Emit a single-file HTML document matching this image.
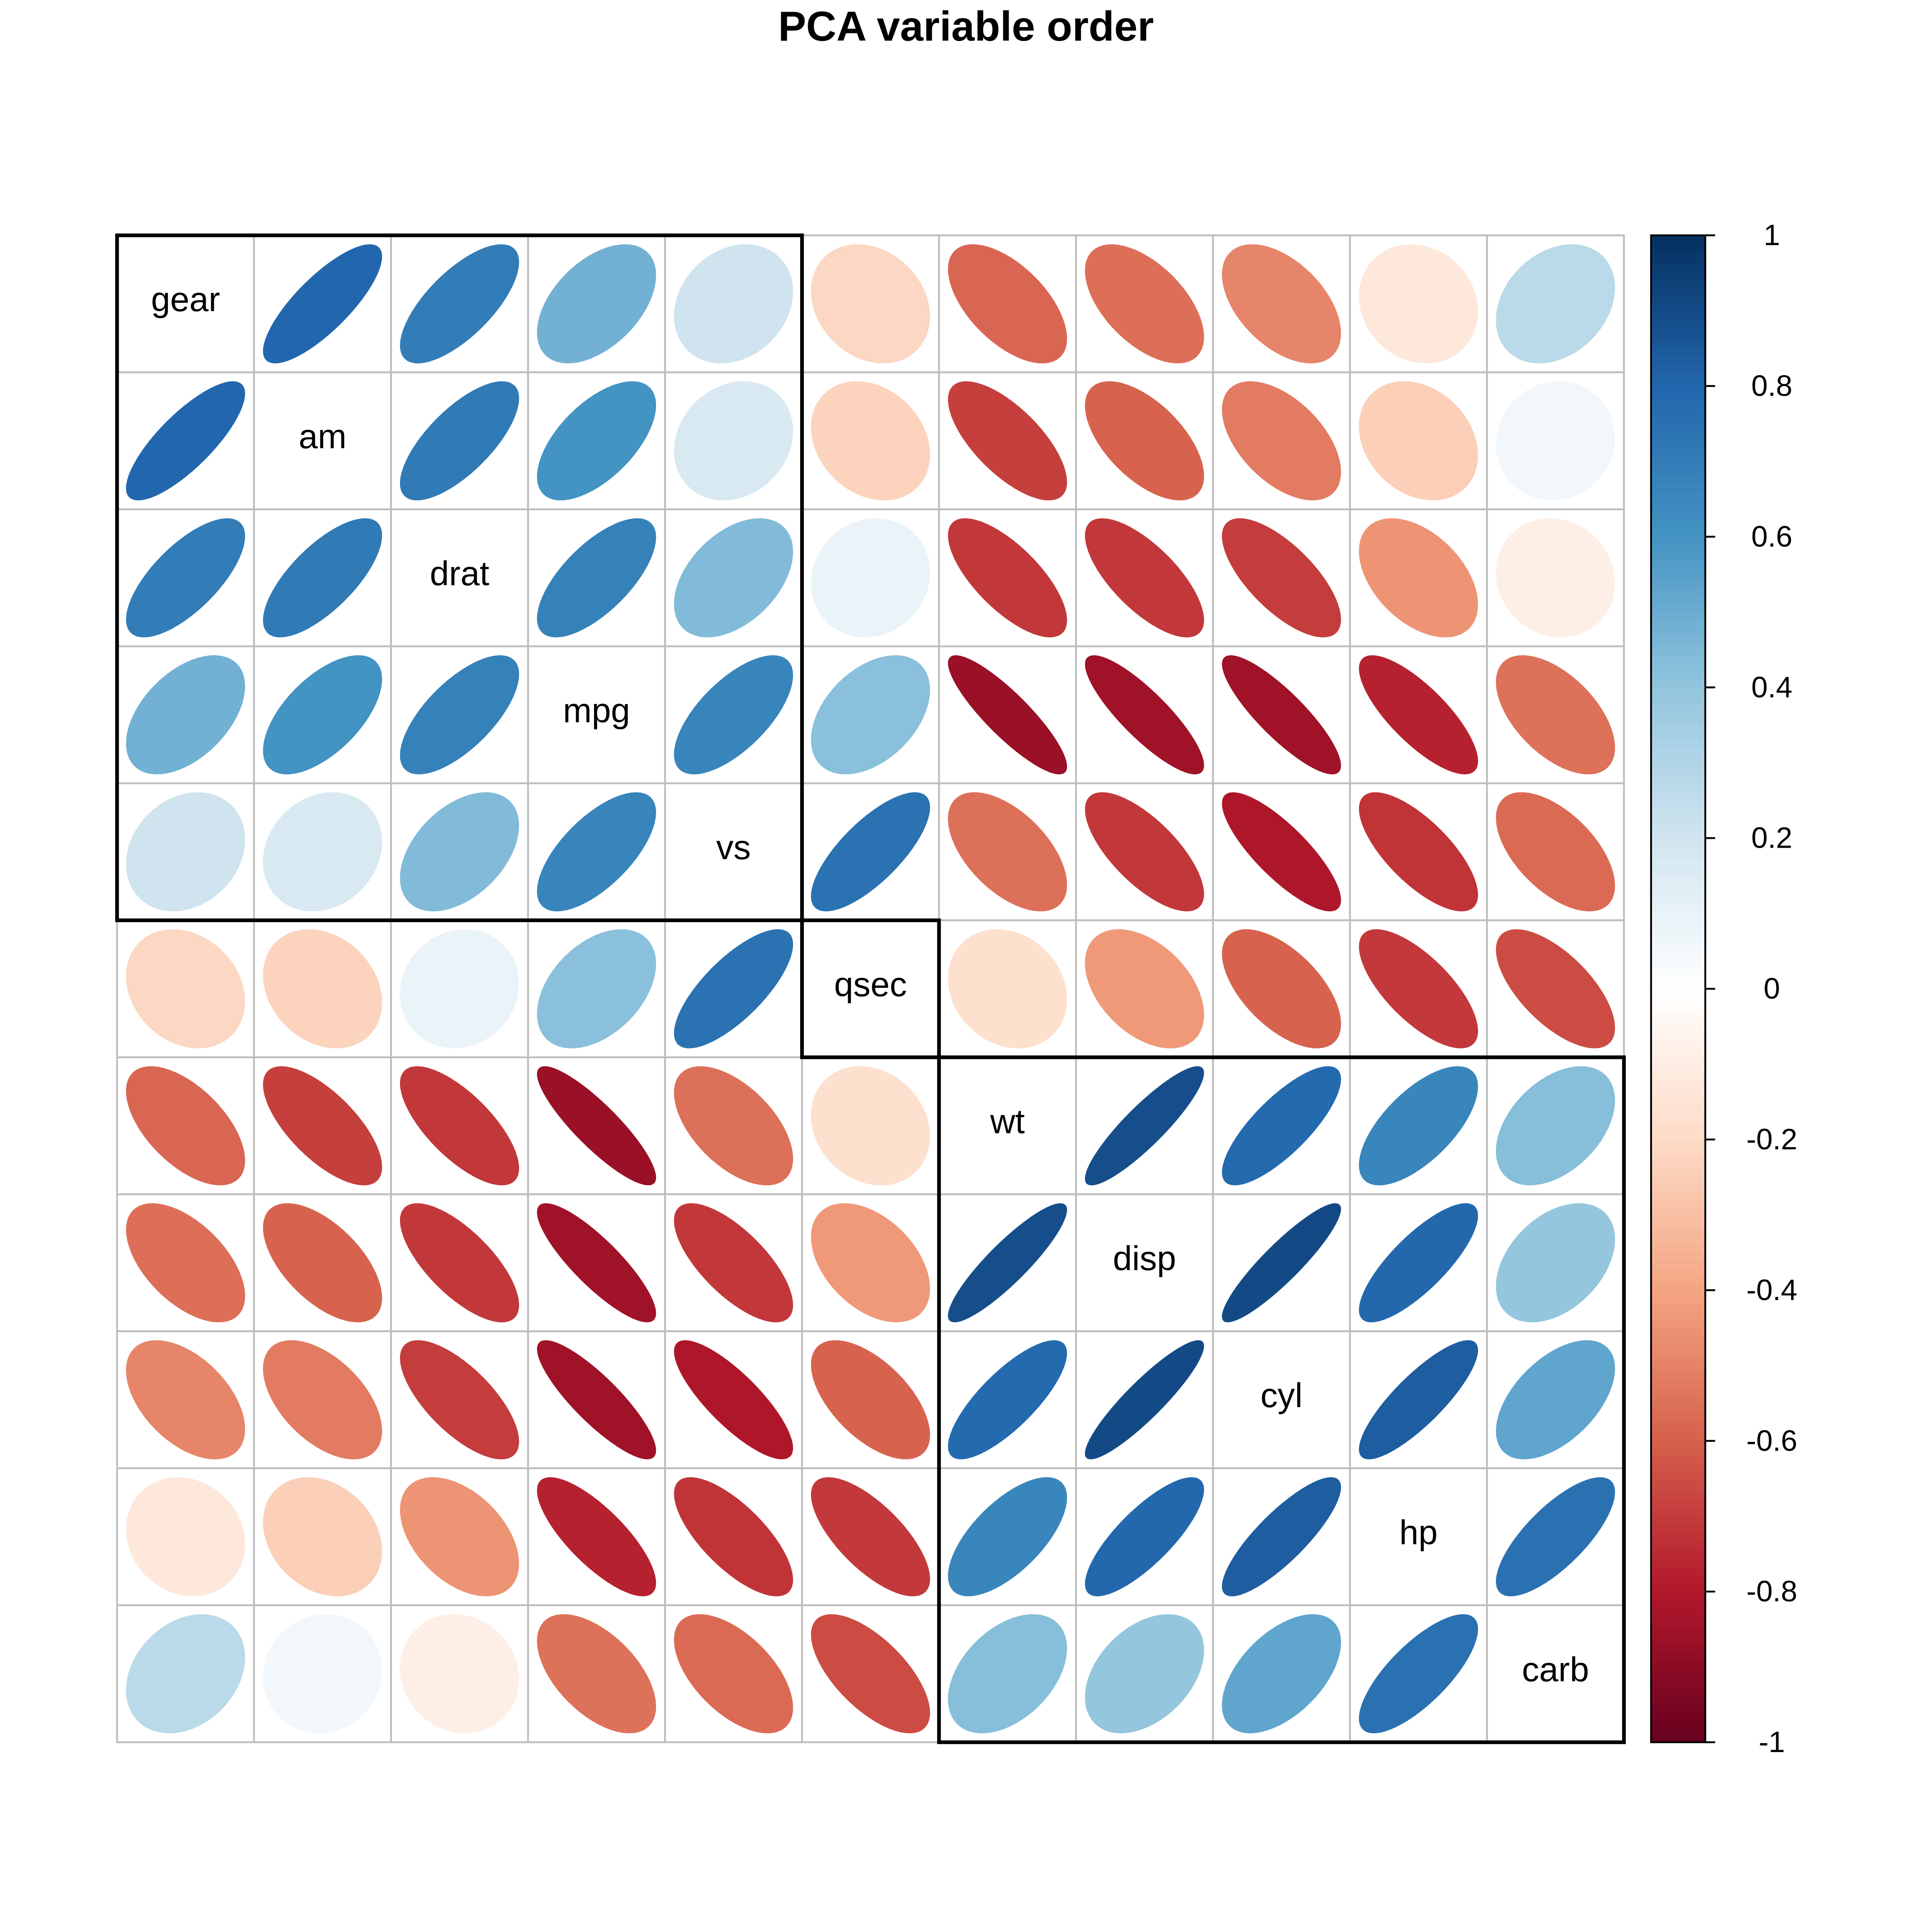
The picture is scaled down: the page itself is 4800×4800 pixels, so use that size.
<!DOCTYPE html>
<html><head><meta charset="utf-8"><style>html,body{margin:0;padding:0;background:#fff}svg{display:block}</style></head>
<body>
<svg id="s" xmlns="http://www.w3.org/2000/svg" width="4800" height="4800" viewBox="0 0 1568 1568" font-family="Liberation Sans, Arial, sans-serif">
<rect width="1568" height="1568" fill="#fff"/>
<text x="784" y="33" text-anchor="middle" font-size="34" font-weight="bold">PCA variable order</text>
<g id="cells"></g>
<g id="bar"></g>
</svg>
<script>
var names=["gear","am","drat","mpg","vs","qsec","wt","disp","cyl","hp","carb"];
var C={};
function s(a,b,v){C[a+","+b]=v;C[b+","+a]=v;}
s("mpg","cyl",-0.852);s("mpg","disp",-0.848);s("mpg","hp",-0.776);s("mpg","drat",0.681);s("mpg","wt",-0.868);s("mpg","qsec",0.419);s("mpg","vs",0.664);s("mpg","am",0.600);s("mpg","gear",0.480);s("mpg","carb",-0.551);
s("cyl","disp",0.902);s("cyl","hp",0.832);s("cyl","drat",-0.700);s("cyl","wt",0.782);s("cyl","qsec",-0.591);s("cyl","vs",-0.811);s("cyl","am",-0.523);s("cyl","gear",-0.493);s("cyl","carb",0.527);
s("disp","hp",0.791);s("disp","drat",-0.710);s("disp","wt",0.888);s("disp","qsec",-0.434);s("disp","vs",-0.710);s("disp","am",-0.591);s("disp","gear",-0.556);s("disp","carb",0.395);
s("hp","drat",-0.449);s("hp","wt",0.659);s("hp","qsec",-0.708);s("hp","vs",-0.723);s("hp","am",-0.243);s("hp","gear",-0.126);s("hp","carb",0.750);
s("drat","wt",-0.712);s("drat","qsec",0.091);s("drat","vs",0.440);s("drat","am",0.713);s("drat","gear",0.700);s("drat","carb",-0.091);
s("wt","qsec",-0.175);s("wt","vs",-0.555);s("wt","am",-0.692);s("wt","gear",-0.583);s("wt","carb",0.428);
s("qsec","vs",0.745);s("qsec","am",-0.230);s("qsec","gear",-0.213);s("qsec","carb",-0.656);
s("vs","am",0.168);s("vs","gear",0.206);s("vs","carb",-0.570);
s("am","gear",0.794);s("am","carb",0.058);s("gear","carb",0.274);
var pal=["#67001F","#B2182B","#D6604D","#F4A582","#FDDBC7","#FFFFFF","#D1E5F0","#92C5DE","#4393C3","#2166AC","#053061"];
function hx(h){return [parseInt(h.substr(1,2),16),parseInt(h.substr(3,2),16),parseInt(h.substr(5,2),16)];}
function col(r){var t=(r+1)/2*10;var i=Math.min(9,Math.floor(t));var f=t-i;var a=hx(pal[i]),b=hx(pal[i+1]);
return "rgb("+a.map(function(v,k){return Math.round(v+(b[k]-v)*f)}).join(",")+")";}
var L=95,T=191,W=(1318-95)/11,out="";
for(var i=0;i<11;i++)for(var j=0;j<11;j++){
 var x=L+j*W,y=T+i*W;
 out+='<rect x="'+x+'" y="'+y+'" width="'+W+'" height="'+W+'" fill="#fff" stroke="#BEBEBE" stroke-width="1.5"/>';
 var cx=x+W/2,cy=y+W/2;
 if(i==j){out+='<text x="'+cx+'" y="'+(cy+6)+'" text-anchor="middle" font-size="28">'+names[i]+'</text>';continue;}
 var r=C[names[i]+","+names[j]];var d=Math.acos(r),p="",sc=W*0.87;
 for(var k=0;k<=60;k++){var a=k/60*2*Math.PI;var px=cx+Math.cos(a+d/2)/2*sc,py=cy-Math.cos(a-d/2)/2*sc;p+=(k?"L":"M")+px.toFixed(2)+" "+py.toFixed(2);}
 out+='<path d="'+p+'Z" fill="'+col(r)+'"/>';
}
out+='<rect x="95" y="191" width="'+(5*W)+'" height="'+(5*W)+'" fill="none" stroke="#000" stroke-width="3"/>';
out+='<rect x="'+(95+5*W)+'" y="'+(191+5*W)+'" width="'+W+'" height="'+W+'" fill="none" stroke="#000" stroke-width="3"/>';
out+='<rect x="'+(95+6*W)+'" y="'+(191+6*W)+'" width="'+(5*W)+'" height="'+(5*W)+'" fill="none" stroke="#000" stroke-width="3"/>';
document.getElementById("cells").innerHTML=out;
var b="",n=200,h=(1414-191)/n;
for(var k=0;k<n;k++){var r=1-(k+0.5)/n*2;b+='<rect x="1340" y="'+(191+k*h)+'" width="44" height="'+(h+0.6)+'" fill="'+col(r)+'"/>';}
b+='<rect x="1340" y="191" width="44" height="1223" fill="none" stroke="#000" stroke-width="1.5"/>';
for(var k=0;k<=10;k++){var y=191+k*1223/10;var v=1-k*0.2;var lab=Math.abs(v)<1e-9?"0":(Math.abs(v)==1?String(Math.round(v)):v.toFixed(1));
b+='<line x1="1384" x2="1392" y1="'+y+'" y2="'+y+'" stroke="#000" stroke-width="1.5"/>';
b+='<text x="1438" y="'+(y+8)+'" text-anchor="middle" font-size="24">'+lab+'</text>';}
document.getElementById("bar").innerHTML=b;
</script>
</body></html>
